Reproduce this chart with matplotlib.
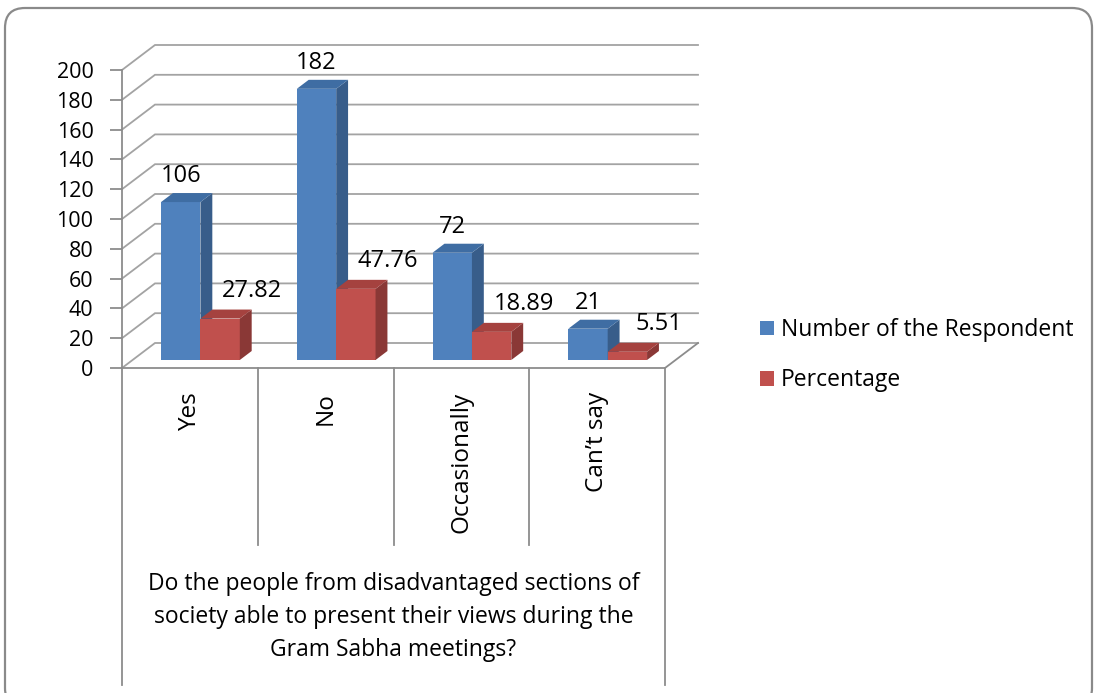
import matplotlib
matplotlib.use("Agg")
import matplotlib.pyplot as plt
from matplotlib.patches import Polygon, Patch, FancyBboxPatch

plt.rcParams['font.family'] = ['Open Sans', 'DejaVu Sans']

categories = ["Yes", "No", "Occasionally", "Can\u2019t say"]
respondents = [106, 182, 72, 21]
percentage = [27.82, 47.76, 18.89, 5.51]
series_names = ["Number of the Respondent", "Percentage"]
y_ticks = [0, 20, 40, 60, 80, 100, 120, 140, 160, 180, 200]
axis_title = ("Do the people from disadvantaged sections of\n"
              "society able to present their views during the\n"
              "Gram Sabha meetings?")

# colours for front / side / top faces of each series
faces = [("#4F81BD", "#385D8A", "#3F6DA3"),
         ("#C0504D", "#8A3836", "#A5423F")]

W, H, DPI = 1094, 693, 100
fig = plt.figure(figsize=(W / DPI, H / DPI), dpi=DPI)

# pixel layout of the plot box
x0_px, cat_px = 122, 135.75     # left edge of first category, width per category
y0_px, unit_px = 368, 1.49      # pixel row of value 0, pixels per unit

ax = fig.add_axes([0, 0, 1, 1])
ax.set_xlim(-0.5 - x0_px / cat_px, (W - x0_px) / cat_px - 0.5)
ax.set_ylim((y0_px - H) / unit_px, y0_px / unit_px)
ax.patch.set_visible(False)

# oblique depth of the box
DX = 33 / cat_px
DV = 25 / unit_px

grid_col = "#A3A3A3"
line_col = "#8C8C8C"
n = len(categories)
left, right = -0.5, n - 0.5

# back wall + left wall gridlines
for v in y_ticks:
    ax.plot([left, left + DX, right + DX], [v, v + DV, v + DV],
            color=grid_col, lw=1.3, zorder=1, solid_joinstyle="miter")
# floor front and right edges
ax.plot([left, right, right + DX], [0, 0, DV], color=line_col, lw=1.3, zorder=1)

# category box below the floor
box_bottom = (y0_px - 685) / unit_px
div_bottom = (y0_px - 545) / unit_px
for i in range(1, n):
    ax.plot([i - 0.5, i - 0.5], [0, div_bottom], color=line_col, lw=1.3, zorder=1)
ax.plot([right, right], [0, box_bottom], color=line_col, lw=1.3, zorder=1)

# y axis on the front-left edge
for s in ["top", "right", "bottom"]:
    ax.spines[s].set_visible(False)
ax.spines["left"].set_position(("data", left))
ax.spines["left"].set_bounds(box_bottom, 200)
ax.spines["left"].set_color(line_col)
ax.spines["left"].set_linewidth(1.3)
ax.set_xticks([])
ax.set_yticks(y_ticks)
ax.tick_params(axis="y", direction="out", length=8.5, width=1.3, color=line_col,
               labelsize=15.5, pad=12)

# 3D columns
bw = 0.29
f0, f1 = 0.32, 0.68
base = f0 * DV
ddx, ddv = (f1 - f0) * DX, (f1 - f0) * DV
for s, vals in enumerate([respondents, percentage]):
    front, side, top = faces[s]
    xs = [i + (s - 1) * bw + f0 * DX for i in range(n)]
    ax.bar(xs, vals, width=bw, bottom=base, align="edge", color=front,
           linewidth=0, zorder=3 + s)
    for xl, h in zip(xs, vals):
        xr = xl + bw
        yt = base + h
        ax.add_patch(Polygon([(xr, base), (xr + ddx, base + ddv),
                              (xr + ddx, yt + ddv), (xr, yt)],
                             closed=True, facecolor=side, lw=0, zorder=3 + s))
        ax.add_patch(Polygon([(xl, yt), (xr, yt), (xr + ddx, yt + ddv),
                              (xl + ddx, yt + ddv)],
                             closed=True, facecolor=top, lw=0, zorder=3 + s))
        off = (0, 18.5) if s == 0 else (23, 20)
        ax.annotate(f"{h:g}", (xl + bw / 2, yt), xytext=off,
                    textcoords="offset points", ha="center", va="center",
                    fontsize=17, zorder=6)

# category labels
for i, c in enumerate(categories):
    ax.text(i, (y0_px - 392) / unit_px, c, rotation=90, ha="center", va="top",
            fontsize=17.5)

ax.text((n - 1) / 2, (y0_px - 617) / unit_px, axis_title, ha="center",
        va="center", multialignment="center", fontsize=16.5, linespacing=1.5)

handles = [Patch(facecolor=faces[k][0], edgecolor="none") for k in range(2)]
fig.legend(handles, series_names, loc="upper left",
           bbox_to_anchor=(760 / W, 1 - 318 / H), frameon=False, fontsize=16.5,
           handlelength=0.62, handleheight=0.62, handletextpad=0.3,
           labelspacing=1.15, borderpad=0, borderaxespad=0)

# rounded outer frame
fr = fig.add_axes([0, 0, 1, 1], zorder=-1)
fr.set_xlim(0, W)
fr.set_ylim(H, 0)
fr.axis("off")
fr.add_patch(FancyBboxPatch((5, 8), 1087, 700, boxstyle="round,pad=0,rounding_size=20",
                            facecolor="white", edgecolor="#8A8A8A", lw=1.6))

fig.savefig("out.png", dpi=DPI)
